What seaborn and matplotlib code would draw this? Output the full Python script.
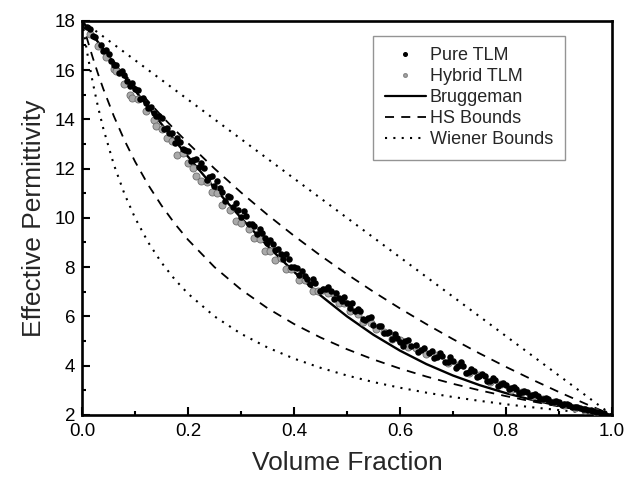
import matplotlib
matplotlib.use("Agg")
import matplotlib.pyplot as plt
from matplotlib.lines import Line2D
from matplotlib.ticker import MultipleLocator, FormatStrFormatter
import seaborn as sns
import pandas as pd

# ---- theory curves ----
grid = [0, 0.01, 0.02, 0.03, 0.04, 0.06, 0.08, 0.1, 0.125, 0.15, 0.175, 0.2, 0.25, 0.3, 0.35,
        0.4, 0.45, 0.5, 0.55, 0.6, 0.65, 0.7, 0.75, 0.8, 0.85, 0.9, 0.95, 1.0]
bruggeman = [18.0, 17.713, 17.426, 17.140, 16.856, 16.290, 15.729, 15.173, 14.485, 13.807, 13.140,
             12.484, 11.211, 10.0, 8.862, 7.810, 6.853, 6.0, 5.253, 4.610, 4.062, 3.6, 3.211,
             2.884, 2.607, 2.373, 2.172, 2.0]
hs_upper = [18.0, 17.714, 17.433, 17.156, 16.884, 16.351, 15.835, 15.333, 14.727, 14.143, 13.579,
            13.034, 12.0, 11.032, 10.125, 9.273, 8.471, 7.714, 7.0, 6.324, 5.684, 5.077, 4.5,
            3.951, 3.429, 2.930, 2.455, 2.0]
hs_lower = [18.0, 17.231, 16.519, 15.857, 15.241, 14.129, 13.152, 12.286, 11.333, 10.5, 9.765,
            9.111, 8.0, 7.091, 6.333, 5.692, 5.143, 4.667, 4.25, 3.882, 3.556, 3.263, 3.0,
            2.762, 2.545, 2.348, 2.167, 2.0]
wiener_lower = [18.0, 16.667, 15.517, 14.516, 13.636, 12.162, 10.976, 10.0, 9.0, 8.182, 7.5,
                6.923, 6.0, 5.294, 4.737, 4.286, 3.913, 3.6, 3.333, 3.103, 2.903, 2.727, 2.571,
                2.432, 2.308, 2.195, 2.093, 2.0]
wiener_upper_x = [0.0, 1.0]
wiener_upper = [18.0, 2.0]

# ---- simulation points ----
pure_x = [0.01, 0.02, 0.025, 0.035, 0.04, 0.05, 0.055, 0.065, 0.07, 0.08, 0.09, 0.095, 0.10, 0.11,
          0.115, 0.125, 0.13, 0.14, 0.145, 0.155, 0.16, 0.17, 0.175, 0.185, 0.19, 0.2, 0.205,
          0.215, 0.22, 0.23, 0.235, 0.245, 0.25, 0.26, 0.27, 0.275, 0.285, 0.29, 0.3, 0.31, 0.315,
          0.325, 0.33, 0.34, 0.35, 0.355, 0.365, 0.37, 0.38, 0.39, 0.395, 0.405, 0.41, 0.42, 0.43,
          0.44, 0.45, 0.46, 0.47, 0.475, 0.48, 0.49, 0.5, 0.51, 0.515, 0.525, 0.53, 0.54, 0.55,
          0.56, 0.57, 0.58, 0.585, 0.595, 0.6, 0.61, 0.62, 0.63, 0.64, 0.645, 0.655, 0.66, 0.67,
          0.68, 0.69, 0.7, 0.71, 0.72, 0.73, 0.74, 0.75, 0.76, 0.77, 0.78, 0.79, 0.8, 0.81, 0.82,
          0.83, 0.84, 0.85, 0.86, 0.87, 0.88, 0.89, 0.9, 0.91, 0.92, 0.93, 0.94, 0.95, 0.96, 0.97,
          0.98,
          0.605, 0.615, 0.635, 0.665, 0.675, 0.685, 0.695, 0.705, 0.715, 0.725, 0.735, 0.745,
          0.755, 0.765, 0.775, 0.785, 0.795, 0.805, 0.815, 0.825, 0.835, 0.845, 0.855, 0.865,
          0.875, 0.885, 0.895, 0.905, 0.915, 0.925, 0.935, 0.945, 0.955, 0.965, 0.975, 0.985,
          0.015, 0.045, 0.06, 0.075, 0.085, 0.105, 0.12, 0.135, 0.15, 0.165, 0.18, 0.195, 0.21,
          0.225, 0.24, 0.255, 0.265, 0.28, 0.295, 0.305, 0.32, 0.335, 0.345, 0.36, 0.375, 0.385,
          0.4, 0.415, 0.425, 0.435, 0.455, 0.465, 0.485, 0.495, 0.505, 0.52, 0.535, 0.545, 0.565,
          0.575, 0.59]
pure_y = [17.76, 17.40, 17.36, 17.02, 16.78, 16.67, 16.38, 16.20, 15.89, 15.81, 15.35, 15.46,
          15.22, 14.82, 14.88, 14.44, 14.50, 14.13, 14.14, 13.59, 13.66, 13.45, 13.04, 13.08,
          12.80, 12.73, 12.29, 12.38, 12.07, 12.01, 11.54, 11.69, 11.31, 11.21, 10.70, 10.90,
          10.46, 10.59, 10.05, 10.07, 9.75, 9.67, 9.36, 9.38, 8.96, 9.10, 8.69, 8.73, 8.32, 8.31,
          8.01, 7.96, 7.66, 7.62, 7.32, 7.34, 7.05, 7.12, 7.05, 6.71, 6.93, 6.61, 6.55, 6.54, 6.22,
          6.21, 5.89, 5.94, 5.65, 5.62, 5.33, 5.36, 5.09, 5.12, 4.96, 4.99, 4.78, 4.82, 4.62, 4.71,
          4.51, 4.61, 4.37, 4.38, 4.14, 4.20, 3.97, 3.99, 3.76, 3.78, 3.56, 3.59, 3.37, 3.41, 3.25,
          3.23, 3.08, 3.07, 2.93, 2.94, 2.81, 2.78, 2.66, 2.64, 2.54, 2.52, 2.43, 2.41, 2.33, 2.29,
          2.22, 2.19, 2.13, 2.09,
          4.80, 5.04, 4.57, 4.32, 4.52, 4.13, 4.34, 3.91, 4.13, 3.70, 3.87, 3.55, 3.68, 3.36, 3.49,
          3.18, 3.31, 3.05, 3.15, 2.89, 2.99, 2.75, 2.83, 2.63, 2.69, 2.52, 2.58, 2.41, 2.43, 2.32,
          2.33, 2.23, 2.21, 2.14, 2.12, 2.06,
          17.67, 16.81, 16.19, 15.97, 15.54, 15.19, 14.67, 14.26, 14.06, 13.46, 13.26, 12.76,
          12.33, 12.24, 11.66, 11.49, 11.04, 10.83, 10.32, 10.28, 9.74, 9.55, 9.17, 8.95, 8.53,
          8.52, 8.01, 7.86, 7.52, 7.53, 7.11, 7.19, 6.75, 6.78, 6.32, 6.29, 5.87, 5.97, 5.60, 5.32,
          5.28]

hybrid_x = [0.015, 0.03, 0.045, 0.06, 0.065, 0.08, 0.09, 0.095, 0.105, 0.12, 0.135, 0.14, 0.15,
            0.16, 0.17, 0.18, 0.19, 0.2, 0.21, 0.215, 0.225, 0.235, 0.245, 0.255, 0.265, 0.28,
            0.29, 0.3, 0.315, 0.325, 0.335, 0.345, 0.355, 0.365, 0.375, 0.385, 0.395, 0.41, 0.42,
            0.435, 0.445, 0.455, 0.465, 0.475, 0.485, 0.495, 0.505, 0.52, 0.53, 0.545, 0.555,
            0.57, 0.585, 0.6, 0.615, 0.63, 0.65, 0.67, 0.69, 0.71, 0.73, 0.75, 0.77, 0.79, 0.81,
            0.83, 0.85, 0.87, 0.89, 0.91, 0.93, 0.95, 0.97]
hybrid_y = [17.47, 16.99, 16.51, 16.04, 15.95, 15.43, 15.00, 14.86, 14.84, 14.32, 13.96, 13.73,
            13.61, 13.24, 13.12, 12.56, 12.65, 12.23, 12.03, 11.70, 11.49, 11.44, 11.04, 10.99,
            10.54, 10.33, 9.89, 9.80, 9.55, 9.17, 9.15, 8.67, 8.65, 8.29, 8.38, 7.92, 7.91, 7.46,
            7.47, 7.03, 7.04, 7.06, 6.94, 6.91, 6.55, 6.53, 6.22, 6.09, 5.79, 5.72, 5.48, 5.38,
            5.09, 5.06, 4.74, 4.72, 4.46, 4.42, 4.09, 4.02, 3.71, 3.61, 3.32, 3.25, 3.03, 2.91,
            2.76, 2.63, 2.52, 2.41, 2.30, 2.21, 2.12]

labels = ["Pure TLM", "Hybrid TLM", "Bruggeman", "HS Bounds", "Wiener Bounds"]

sns.set_theme(style="white")
plt.rcParams["font.family"] = ["Liberation Sans", "DejaVu Sans"]

fig, ax = plt.subplots(figsize=(6.36, 4.83), dpi=100)
fig.subplots_adjust(left=0.129, right=0.962, bottom=0.141, top=0.957)

curves = pd.DataFrame({"x": grid, "brug": bruggeman, "hsu": hs_upper, "hsl": hs_lower,
                       "wl": wiener_lower})
dot = (0, (1, 3))
dash = (0, (5, 4))
sns.lineplot(data=curves, x="x", y="wl", ax=ax, color="black", lw=1.5, linestyle=dot)
sns.lineplot(x=wiener_upper_x, y=wiener_upper, ax=ax, color="black", lw=1.5, linestyle=dot)
sns.lineplot(data=curves, x="x", y="hsu", ax=ax, color="black", lw=1.3, linestyle=dash)
sns.lineplot(data=curves, x="x", y="hsl", ax=ax, color="black", lw=1.3, linestyle=dash)
sns.lineplot(data=curves, x="x", y="brug", ax=ax, color="black", lw=1.7, linestyle="-")

sns.scatterplot(x=hybrid_x, y=hybrid_y, ax=ax, color="#a9a9a9", edgecolor="#6e6e6e",
                s=26, linewidth=0.6, zorder=3)
sns.scatterplot(x=pure_x, y=pure_y, ax=ax, color="black", s=22, linewidth=0, zorder=4)

ax.set_xlim(0, 1)
ax.set_ylim(2, 18)
ax.xaxis.set_major_locator(MultipleLocator(0.2))
ax.xaxis.set_minor_locator(MultipleLocator(0.1))
ax.yaxis.set_major_locator(MultipleLocator(2))
ax.yaxis.set_minor_locator(MultipleLocator(1))
ax.xaxis.set_major_formatter(FormatStrFormatter("%.1f"))
ax.yaxis.set_major_formatter(FormatStrFormatter("%d"))
ax.tick_params(which="both", direction="in", bottom=True, left=True, top=False, right=False,
               width=1.5, colors="black", labelsize=13.5)
ax.tick_params(which="major", length=5.5)
ax.tick_params(which="minor", length=3.2)
ax.tick_params(axis="x", which="major", pad=6)
ax.tick_params(axis="y", which="major", pad=5)
for sp in ax.spines.values():
    sp.set_linewidth(1.9)
    sp.set_color("black")

ax.set_xlabel("Volume Fraction", fontsize=19, labelpad=8)
ax.set_ylabel("Effective Permittivity", fontsize=19, labelpad=6)

handles = [
    Line2D([], [], marker="o", color="black", ls="", ms=2.6),
    Line2D([], [], marker="o", color="#a9a9a9", markeredgecolor="#8a8a8a", ls="", ms=2.6),
    Line2D([], [], color="black", lw=1.6, ls="-"),
    Line2D([], [], color="black", lw=1.3, ls=dash),
    Line2D([], [], color="black", lw=1.5, ls=dot),
]
leg = ax.legend(handles, labels, loc="upper left", bbox_to_anchor=(0.549, 0.962),
                fontsize=13, frameon=True, fancybox=False, handlelength=2.3,
                handletextpad=0.2, labelspacing=0.22, borderpad=0.65, borderaxespad=0)
leg.get_frame().set_edgecolor("#7a7a7a")
leg.get_frame().set_linewidth(1.0)

fig.savefig("out.png", dpi=100)
